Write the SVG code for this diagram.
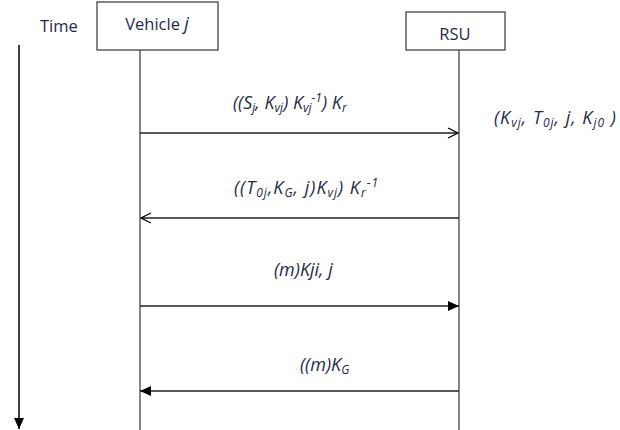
<svg xmlns="http://www.w3.org/2000/svg" width="620" height="430" viewBox="0 0 620 430">
<defs>
<marker id="open" markerWidth="12" markerHeight="12" refX="11" refY="6" orient="auto" markerUnits="userSpaceOnUse">
<path d="M1,1 L11,6 L1,11" fill="none" stroke="#000" stroke-width="1.3"/>
</marker>
<marker id="fill" markerWidth="12" markerHeight="12" refX="11" refY="6" orient="auto" markerUnits="userSpaceOnUse">
<path d="M0,1 L11,6 L0,11 Z" fill="#000"/>
</marker>
</defs>
<style>
.box{fill:#fff;stroke:#444;stroke-width:1.3}
.life{stroke:#444;stroke-width:1.3}
.msg{stroke:#222;stroke-width:1.5;fill:none}
text{font-family:"Open Sans","Liberation Sans",sans-serif;fill:#1f2a48;font-size:16.5px}
.it{font-style:italic;font-size:18px}
.sub{font-size:12px}
.wide{letter-spacing:1px}
</style>
<text x="40" y="32">Time</text>
<g id="vehicle">
<rect class="box" x="97" y="2" width="121" height="48"/>
<text x="157" y="30" text-anchor="middle">Vehicle <tspan class="it">j</tspan></text>
<line class="life" x1="140" y1="50" x2="140" y2="430"/>
</g>
<g id="rsu">
<rect class="box" x="406" y="12" width="99" height="38"/>
<text x="455" y="40" text-anchor="middle">RSU</text>
<line class="life" x1="459" y1="50" x2="459" y2="430"/>
</g>
<g id="connectors">
<line x1="19" y1="45" x2="19" y2="429" stroke="#000" stroke-width="1.5" marker-end="url(#fill)"/>
<line class="msg" x1="140" y1="133" x2="458" y2="133" marker-end="url(#open)"/>
<line class="msg" x1="459" y1="218" x2="141" y2="218" marker-end="url(#open)"/>
<line class="msg" x1="140" y1="306" x2="459" y2="306" marker-end="url(#fill)"/>
<line class="msg" x1="459" y1="391" x2="140" y2="391" marker-end="url(#fill)"/>
</g>
<g id="labels">
<text x="233" y="109" class="it">((S<tspan class="sub" dy="3">j</tspan><tspan dy="-3">, K</tspan><tspan class="sub" dy="3">vj</tspan><tspan dy="-3">) K</tspan><tspan class="sub" dy="3">vj</tspan><tspan class="sub" dy="-10">-1</tspan><tspan dy="7">) K</tspan><tspan class="sub" dy="3">r</tspan></text>
<text x="494" y="124" class="it wide">(K<tspan class="sub" dy="3">vj</tspan><tspan dy="-3">, T</tspan><tspan class="sub" dy="3">0j</tspan><tspan dy="-3">, j, K</tspan><tspan class="sub" dy="3">j0</tspan><tspan dy="-3"> )</tspan></text>
<text x="234" y="194" class="it wide">((T<tspan class="sub" dy="3">0j</tspan><tspan dy="-3">,K</tspan><tspan class="sub" dy="3">G</tspan><tspan dy="-3">, j)K</tspan><tspan class="sub" dy="3">vj</tspan><tspan dy="-3">) K</tspan><tspan class="sub" dy="3">r</tspan><tspan class="sub" dy="-10">-1</tspan></text>
<text x="274" y="276" class="it">(m)Kji, j</text>
<text x="300" y="371" class="it">((m)K<tspan class="sub" dy="3">G</tspan></text>
</g>
</svg>
